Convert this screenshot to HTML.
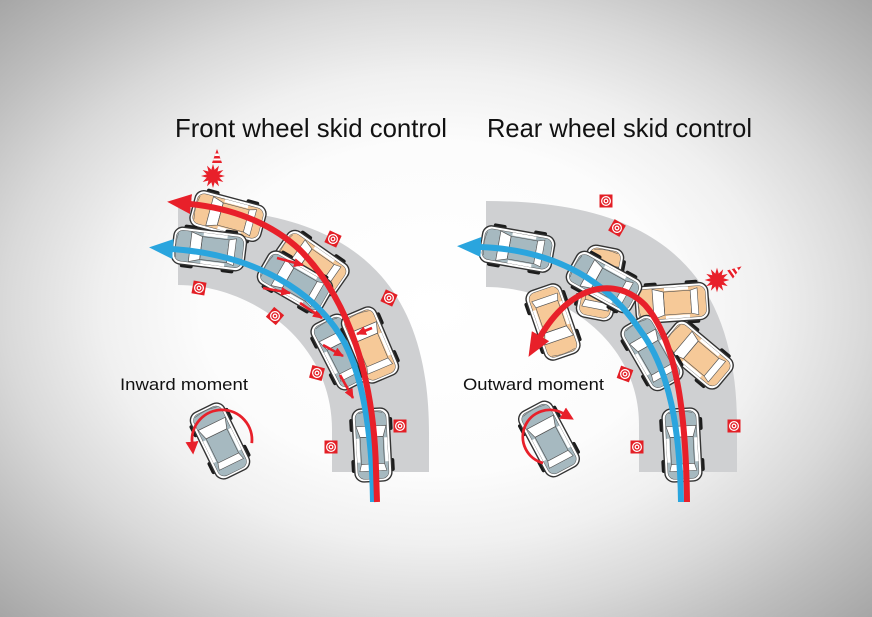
<!DOCTYPE html>
<html><head><meta charset="utf-8"><style>
html,body{margin:0;padding:0;}
body{width:872px;height:617px;overflow:hidden;position:relative;background:radial-gradient(ellipse farthest-corner at 50% 50%,#ffffff 0%,#fcfcfc 38%,#f0f0f0 54%,#d9d9d9 70%,#bebebe 85%,#a6a6a6 100%);}
svg{position:absolute;left:0;top:0;}
</style></head><body>
<svg width="872" height="617" viewBox="0 0 872 617" xmlns="http://www.w3.org/2000/svg" xmlns:xlink="http://www.w3.org/1999/xlink">
<defs>
 <marker id="ahR" viewBox="0 0 24 20" refX="1" refY="10" markerWidth="24" markerHeight="20" markerUnits="userSpaceOnUse" orient="auto"><path d="M0,0 L24,10 L0,20 Z" fill="#e8202a"/></marker>
 <marker id="ahB" viewBox="0 0 24 20" refX="1" refY="10" markerWidth="24" markerHeight="20" markerUnits="userSpaceOnUse" orient="auto"><path d="M0,0 L24,10 L0,20 Z" fill="#2aa5de"/></marker>
 <marker id="ahS" viewBox="0 0 10 9" refX="9" refY="4.5" markerWidth="10" markerHeight="9" markerUnits="userSpaceOnUse" orient="auto"><path d="M0,0 L10,4.5 L0,9 Z" fill="#e8202a"/></marker>
 <marker id="ahM" viewBox="0 0 13 13" refX="1" refY="6.5" markerWidth="13" markerHeight="13" markerUnits="userSpaceOnUse" orient="auto"><path d="M0,0 L13,6.5 L0,13 Z" fill="#e8202a"/></marker>
 <g id="car">
  <rect x="-21.5" y="-27" width="6" height="13" rx="2" fill="#1c1c1c"/>
  <rect x="15.5" y="-27" width="6" height="13" rx="2" fill="#1c1c1c"/>
  <rect x="-21.5" y="14" width="6" height="13" rx="2" fill="#1c1c1c"/>
  <rect x="15.5" y="14" width="6" height="13" rx="2" fill="#1c1c1c"/>
  <rect x="-18.5" y="-36.5" width="37" height="73" rx="9" fill="#ffffff" stroke="#333" stroke-width="1.4"/>
  <rect x="-15.5" y="-34" width="31" height="68" rx="7" fill="currentColor" stroke="#555" stroke-width="0.5"/>
  <path d="M-15,-19 L15,-19 L11.5,-8 L-11.5,-8 Z" fill="#fff" stroke="#555" stroke-width="0.7"/>
  <rect x="-15.5" y="-7" width="3" height="24" fill="#fff"/>
  <rect x="12.5" y="-7" width="3" height="24" fill="#fff"/>
  <rect x="-11.5" y="-8" width="23" height="27" fill="none" stroke="#555" stroke-width="0.6"/>
  <path d="M-11.5,19 L11.5,19 L13.5,26 L-13.5,26 Z" fill="#fff" stroke="#555" stroke-width="0.6"/>
  <path d="M-12,-32 Q0,-35 12,-32" fill="none" stroke="#666" stroke-width="0.6"/>
 </g>
 <g id="mk">
  <rect x="-6.5" y="-6.5" width="13" height="13" fill="#e31f26"/>
  <circle r="5" fill="#fff"/>
  <circle r="3.1" fill="none" stroke="#e31f26" stroke-width="1.3"/>
  <circle r="1.2" fill="#e31f26"/>
 </g>
 <polygon id="star" fill="#e8202a" points="0,-13 1.81,-6.76 6.5,-11.26 4.95,-4.95 11.26,-6.5 6.76,-1.81 13,0 6.76,1.81 11.26,6.5 4.95,4.95 6.5,11.26 1.81,6.76 0,13 -1.81,6.76 -6.5,11.26 -4.95,4.95 -11.26,6.5 -6.76,1.81 -13,0 -6.76,-1.81 -11.26,-6.5 -4.95,-4.95 -6.5,-11.26 -1.81,-6.76"/>
 <g id="cone">
  <path d="M0,-8 L5,6 L-5,6 Z" fill="#e8202a"/>
  <polygon points="-1.6,-3.5 1.6,-3.5 2.5,-1 -2.5,-1" fill="#fff"/>
  <polygon points="-3.4,1.5 3.4,1.5 4.1,3.5 -4.1,3.5" fill="#fff"/>
 </g>
</defs>

<!-- Titles -->
<text x="175" y="137" font-family="Liberation Sans, sans-serif" font-size="26" fill="#111" textLength="272" lengthAdjust="spacingAndGlyphs">Front wheel skid control</text>
<text x="487" y="137" font-family="Liberation Sans, sans-serif" font-size="26" fill="#111" textLength="265" lengthAdjust="spacingAndGlyphs">Rear wheel skid control</text>

<!-- Roads -->
<path d="M178,208 C340,208 429,270 429,433 L429,472 L332,472 L332,430 C332,340 250,285 178,285 Z" fill="#cfd0d2"/>
<path d="M486,201 C648,201 737,263 737,426 L737,472 L639,472 L639,425 C639,340 560,287 486,287 Z" fill="#cfd0d2"/>

<!-- Target markers -->
<use xlink:href="#mk" transform="translate(333,239) rotate(25)"/>
<use xlink:href="#mk" transform="translate(389,298) rotate(25)"/>
<use xlink:href="#mk" transform="translate(199,288) rotate(10)"/>
<use xlink:href="#mk" transform="translate(275,316) rotate(40)"/>
<use xlink:href="#mk" transform="translate(317,373) rotate(15)"/>
<use xlink:href="#mk" transform="translate(400,426)"/>
<use xlink:href="#mk" transform="translate(331,447)"/>
<use xlink:href="#mk" transform="translate(606,201)"/>
<use xlink:href="#mk" transform="translate(617,228) rotate(30)"/>
<use xlink:href="#mk" transform="translate(625,374) rotate(20)"/>
<use xlink:href="#mk" transform="translate(734,426)"/>
<use xlink:href="#mk" transform="translate(637,447)"/>

<!-- Crash stars and cones -->
<use xlink:href="#star" transform="translate(213,176) scale(0.92)"/>
<use xlink:href="#cone" transform="translate(217,157)"/>
<use xlink:href="#star" transform="translate(717,280) scale(0.95)"/>
<use xlink:href="#cone" transform="translate(735,271) rotate(55)"/>

<!-- Left cars -->
<use xlink:href="#car" style="color:#f6c998" transform="translate(228,216) rotate(-75)"/>
<use xlink:href="#car" style="color:#a6b9c0" transform="translate(209,249) rotate(-83)"/>
<use xlink:href="#car" style="color:#f6c998" transform="translate(312,263) rotate(-55)"/>
<use xlink:href="#car" style="color:#a6b9c0" transform="translate(295,282) rotate(-60)"/>
<use xlink:href="#car" style="color:#a6b9c0" transform="translate(341,352) rotate(-27)"/>
<use xlink:href="#car" style="color:#f6c998" transform="translate(370,345) rotate(-23)"/>
<use xlink:href="#car" style="color:#a6b9c0" transform="translate(372,445) rotate(-3)"/>
<use xlink:href="#car" style="color:#a6b9c0" transform="translate(220,441) rotate(-26)"/>

<!-- Right cars -->
<use xlink:href="#car" style="color:#a6b9c0" transform="translate(517,249) rotate(-80)"/>
<use xlink:href="#car" style="color:#f6c998" transform="translate(600,283) rotate(11)"/>
<use xlink:href="#car" style="color:#f6c998" transform="translate(672,303) rotate(-94)"/>
<use xlink:href="#car" style="color:#a6b9c0" transform="translate(604,282) rotate(-61)"/>
<use xlink:href="#car" style="color:#f6c998" transform="translate(553,322) rotate(161)"/>
<use xlink:href="#car" style="color:#f6c998" transform="translate(697,355) rotate(-50)"/>
<use xlink:href="#car" style="color:#a6b9c0" transform="translate(652,353) rotate(-30)"/>
<use xlink:href="#car" style="color:#a6b9c0" transform="translate(682,445) rotate(-3)"/>
<use xlink:href="#car" style="color:#a6b9c0" transform="translate(549,439) rotate(-28)"/>

<!-- Small skid arrows (left) -->
<g stroke="#e8202a" stroke-width="2.6" fill="none" marker-end="url(#ahS)">
 <path d="M277,258 L303,265"/>
 <path d="M263,288 L290,293"/>
 <path d="M300,303 L322,318"/>
 <path d="M323,345 L343,356"/>
 <path d="M340,375 L353,398"/>
 <path d="M372,328 L357,334"/>
</g>

<!-- Main arrows -->
<path d="M373,502 C372,430 362,370 340,335 C315,295 260,255 172,249" fill="none" stroke="#2aa5de" stroke-width="6" marker-end="url(#ahB)"/>
<path d="M377,502 L376,470 C374,380 350,300 300,250 C270,222 230,208 190,204" fill="none" stroke="#e8202a" stroke-width="6" marker-end="url(#ahR)"/>
<path d="M681,502 C680,430 670,370 640,330 C610,285 560,250 480,247" fill="none" stroke="#2aa5de" stroke-width="6" marker-end="url(#ahB)"/>
<path d="M687,502 C686,410 676,340 645,305 C615,275 570,285 540,337" fill="none" stroke="#e8202a" stroke-width="6" marker-end="url(#ahR)"/>

<!-- Rotation arrows -->
<path d="M251.8,443.1 A30,30 0 1 0 192.1,442.6" fill="none" stroke="#e8202a" stroke-width="2.8" marker-end="url(#ahM)"/>
<path d="M543,463 A27,27 0 1 1 563.5,413.6" fill="none" stroke="#e8202a" stroke-width="2.8" marker-end="url(#ahM)"/>

<!-- Labels -->
<text x="120" y="390" font-family="Liberation Sans, sans-serif" font-size="17" fill="#111" textLength="128" lengthAdjust="spacingAndGlyphs">Inward moment</text>
<text x="463" y="390" font-family="Liberation Sans, sans-serif" font-size="17" fill="#111" textLength="141" lengthAdjust="spacingAndGlyphs">Outward moment</text>
</svg>
</body></html>
